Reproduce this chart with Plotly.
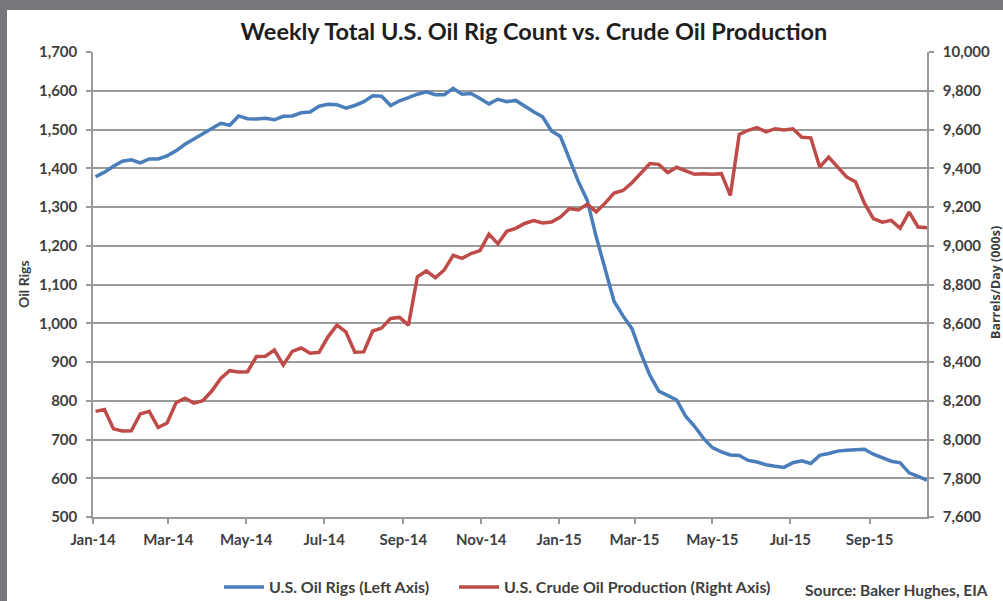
import pandas as pd
import plotly.graph_objects as go

# ---- data (weekly, Fridays) ----
dates = pd.date_range("2014-01-03", periods=94, freq="W-FRI")

oil_rigs = [
    1378, 1390, 1405, 1418, 1422, 1414, 1424, 1424, 1432, 1445,
    1462, 1475, 1490, 1503, 1516, 1511, 1535, 1528, 1527, 1529,
    1525, 1534, 1535, 1543, 1545, 1560, 1565, 1564, 1555, 1562,
    1572, 1587, 1586, 1562, 1574, 1582, 1591, 1597, 1590, 1590,
    1606, 1591, 1593, 1580, 1566, 1578, 1572, 1575, 1560, 1546,
    1533, 1496, 1482, 1421, 1366, 1317, 1223, 1140, 1056, 1019,
    986, 922, 866, 825, 813, 802, 760, 734, 703, 679,
    668, 660, 659, 646, 642, 635, 631, 628, 640, 645,
    638, 659, 664, 670, 672, 674, 675, 662, 652, 644,
    640, 614, 605, 595,
]

crude_production = [
    8145, 8155, 8055, 8044, 8045, 8132, 8145, 8062, 8085, 8190,
    8213, 8188, 8200, 8250, 8315, 8355, 8348, 8350, 8428, 8430,
    8462, 8385, 8455, 8472, 8445, 8450, 8530, 8590, 8555, 8450,
    8452, 8560, 8575, 8625, 8630, 8590, 8840, 8870, 8835, 8875,
    8950, 8935, 8960, 8975, 9060, 9010, 9075, 9090, 9115, 9130,
    9118, 9122, 9148, 9192, 9185, 9215, 9175, 9220, 9272, 9285,
    9325, 9375, 9424, 9420, 9378, 9405, 9385, 9369, 9372, 9369,
    9372, 9260, 9575, 9596, 9610, 9588, 9604, 9598, 9604, 9560,
    9557, 9406, 9458, 9405, 9355, 9330, 9220, 9140, 9122, 9131,
    9090, 9174, 9097, 9093,
]

title_text = "Weekly Total U.S. Oil Rig Count vs. Crude Oil Production"
rig_name = "U.S. Oil Rigs (Left Axis)"
prod_name = "U.S. Crude Oil Production (Right Axis)"
left_title = "Oil Rigs"
right_title = "Barrels/Day (000s)"
source_text = "Source: Baker Hughes, EIA"

# ---- layout geometry ----
W, H = 1003, 601
ML, MR, MT, MB = 93, 76, 52, 84
PW, PH = W - ML - MR, H - MT - MB


def px_x(p):
    return (p - ML) / PW


def px_y(p):
    return (H - MB - p) / PH


FONT = "Lato"
TXT = "#3f3f3f"
GRID = "#9a9a9a"
BLUE = "#4a7ebb"
RED = "#be4b48"

fig = go.Figure()
fig.add_trace(go.Scatter(
    x=dates, y=oil_rigs, name=rig_name, mode="lines",
    line=dict(color=BLUE, width=3.5), yaxis="y", legend="legend",
))
fig.add_trace(go.Scatter(
    x=dates, y=crude_production, name=prod_name, mode="lines",
    line=dict(color=RED, width=3.5), yaxis="y2", legend="legend2",
))

tickfont = dict(family=FONT, size=15, color=TXT, weight="bold")
legend_font = dict(family=FONT, size=16, color=TXT, weight="bold")

fig.update_layout(
    width=W, height=H,
    margin=dict(l=ML, r=MR, t=MT, b=MB, autoexpand=False),
    paper_bgcolor="#76777b",
    plot_bgcolor="white",
    font=dict(family=FONT, color=TXT),
    showlegend=True,
    title=dict(
        text=title_text, x=px_x(537), xanchor="center",
        y=1 - 32 / H, yanchor="middle",
        font=dict(family=FONT, size=23.5, color="#1e1e1e", weight="bold"),
    ),
    xaxis=dict(
        type="date",
        range=["2014-01-01", "2015-10-16"],
        tick0="2014-01-01", dtick="M2", tickformat="%b-%y",
        ticks="outside", ticklen=5, tickcolor=GRID, tickwidth=1.5,
        showline=True, linecolor=GRID, linewidth=1.5,
        showgrid=False, zeroline=False,
        tickfont=tickfont, ticklabelstandoff=3,
    ),
    yaxis=dict(
        range=[500, 1700], dtick=100, tickformat=",d",
        ticks="outside", ticklen=5, tickcolor=GRID, tickwidth=1.5,
        showline=True, linecolor=GRID, linewidth=1.5,
        showgrid=True, gridcolor=GRID, gridwidth=1.5,
        zeroline=False, tickfont=tickfont, ticklabelstandoff=6,
    ),
    yaxis2=dict(
        range=[7600, 10000], dtick=200, tickformat=",d",
        overlaying="y", side="right",
        ticks="outside", ticklen=5, tickcolor=GRID, tickwidth=1.5,
        showline=True, linecolor=GRID, linewidth=1.5,
        showgrid=False, zeroline=False, tickfont=tickfont, ticklabelstandoff=6,
    ),
    legend=dict(
        orientation="h", x=px_x(219), xanchor="left",
        y=px_y(587), yanchor="middle",
        font=legend_font, bgcolor="rgba(0,0,0,0)", itemwidth=40,
    ),
    legend2=dict(
        orientation="h", x=px_x(454), xanchor="left",
        y=px_y(587), yanchor="middle",
        font=legend_font, bgcolor="rgba(0,0,0,0)", itemwidth=40,
    ),
    shapes=[
        dict(
            type="rect", xref="paper", yref="paper", layer="below",
            x0=px_x(7), x1=px_x(W + 5), y0=px_y(H + 5), y1=px_y(10),
            fillcolor="white", line=dict(width=0),
        ),
    ],
    annotations=[
        dict(
            text=left_title, xref="paper", yref="paper",
            x=px_x(23), y=px_y(284), textangle=-90, showarrow=False,
            xanchor="center", yanchor="middle",
            font=dict(family=FONT, size=14, color=TXT, weight="bold"),
        ),
        dict(
            text=right_title, xref="paper", yref="paper",
            x=px_x(995), y=px_y(283), textangle=-90, showarrow=False,
            xanchor="center", yanchor="middle",
            font=dict(family="Open Sans", size=12.5, color=TXT, weight="bold"),
        ),
        dict(
            text=source_text, xref="paper", yref="paper",
            x=px_x(803), y=px_y(590), showarrow=False,
            xanchor="left", yanchor="middle",
            font=dict(family=FONT, size=15.5, color=TXT, weight="bold"),
        ),
    ],
)

fig.write_html(
    "out.html",
    config={"displayModeBar": False},
    post_script="document.body.style.margin='0';document.body.style.padding='0';"
                "document.body.style.overflow='hidden';",
)
